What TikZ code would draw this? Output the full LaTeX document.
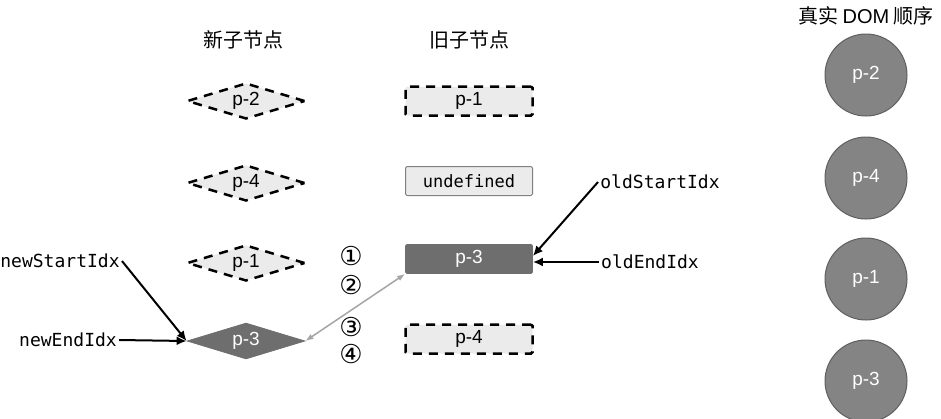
\documentclass[tikz,border=0pt]{standalone}
\usepackage{fontspec}
\setmainfont{Liberation Sans}
\setmonofont{DejaVu Sans Mono}
\newfontfamily\cjkfont{Noto Sans CJK SC}
\newfontfamily\symfont{DejaVu Sans}
\usetikzlibrary{shapes.geometric,arrows.meta,calc}

\definecolor{boxfill}{RGB}{235,235,235}
\definecolor{darkfill}{RGB}{110,110,110}
\definecolor{domfill}{RGB}{132,132,132}
\definecolor{domline}{RGB}{95,95,95}
\definecolor{swapline}{RGB}{165,165,165}

\tikzset{every picture/.style={line width=0.75pt}}
\tikzset{
  newnode/.style={diamond, aspect=3.3, minimum width=118pt, minimum height=36pt, inner sep=0pt, font=\fontsize{19}{19}\selectfont},
  oldnode/.style={rectangle, rounded corners=1.5pt, minimum width=127pt, minimum height=29pt, inner sep=0pt, font=\fontsize{19}{19}\selectfont},
  ghost/.style={fill=boxfill, draw=black, line width=2.5pt, dash pattern={on 9pt off 7pt}},
  moved/.style={fill=darkfill, draw=darkfill, text=white},
  domnode/.style={circle, minimum size=82pt, inner sep=0pt, fill=domfill, draw=domline, line width=1pt, text=white, font=\fontsize{19}{19}\selectfont},
  idxlabel/.style={inner sep=2pt, font=\ttfamily\fontsize{18}{18}\selectfont},
  idxarrow/.style={line width=2pt, -{Latex[length=10pt,width=9pt]}},
  heading/.style={font=\cjkfont\fontsize{20}{20}\selectfont},
  stepnum/.style={font=\symfont\fontsize{26}{26}\selectfont}
}

\begin{document}
\begin{tikzpicture}[x=1pt,y=1pt,yscale=-1,xscale=1]
\useasboundingbox (0,0) rectangle (941,418);

% Text Node
\node (hNew) at (243,40) [heading] {新子节点};
% Text Node
\node (hOld) at (469,40) [heading] {旧子节点};
% Text Node
\node (hDom) at (866,16) [heading] {真实 {\fontspec{Liberation Sans}DOM} 顺序};

%Shape: Diamond
\node (n2) at (246,101) [newnode, ghost] {p-2};
%Shape: Diamond
\node (n4) at (246,183) [newnode, ghost] {p-4};
%Shape: Diamond
\node (n1) at (246,263) [newnode, ghost] {p-1};
%Shape: Diamond
\node (n3) at (246,341) [newnode, moved] {p-3};

%Shape: Rectangle
\node (o1) at (469,101) [oldnode, ghost] {p-1};
%Shape: Rectangle
\node (oU) at (469,181) [oldnode, fill=boxfill, draw=gray, line width=1pt, font=\ttfamily\fontsize{17}{17}\selectfont] {undefined};
%Shape: Rectangle
\node (o3) at (469,259) [oldnode, moved] {p-3};
%Shape: Rectangle
\node (o4) at (469,339) [oldnode, ghost] {p-4};

%Shape: Circle
\node (d2) at (866,75) [domnode] {p-2};
%Shape: Circle
\node (d4) at (866,178) [domnode] {p-4};
%Shape: Circle
\node (d1) at (866,279) [domnode] {p-1};
%Shape: Circle
\node (d3) at (866,381) [domnode] {p-3};

% Text Node
\node (s1) at (351,256) [stepnum] {①};
% Text Node
\node (s2) at (351,285) [stepnum] {②};
% Text Node
\node (s3) at (351,327) [stepnum] {③};
% Text Node
\node (s4) at (351,354) [stepnum] {④};

% Text Node
\node (newStart) at (60,261) [idxlabel] {newStartIdx};
% Text Node
\node (newEnd) at (68,340) [idxlabel] {newEndIdx};
% Text Node
\node (oldStart) at (660,182) [idxlabel] {oldStartIdx};
% Text Node
\node (oldEnd) at (650,262) [idxlabel] {oldEndIdx};

%Straight Lines
\draw [idxarrow] (newStart.east) -- (n3.west);
%Straight Lines
\draw [idxarrow] (newEnd.east) -- (n3.west);
%Straight Lines
\draw [idxarrow] (oldStart.west) -- ($(o3.east)+(0,-3)$);
%Straight Lines
\draw [idxarrow] (oldEnd.west) -- ($(o3.east)+(0,3)$);
%Straight Lines
\draw [draw=swapline, line width=1.5pt, {Latex[length=8pt,width=6pt]}-{Latex[length=8pt,width=6pt]}] (n3.east) -- (o3.south west);

\end{tikzpicture}
\end{document}
